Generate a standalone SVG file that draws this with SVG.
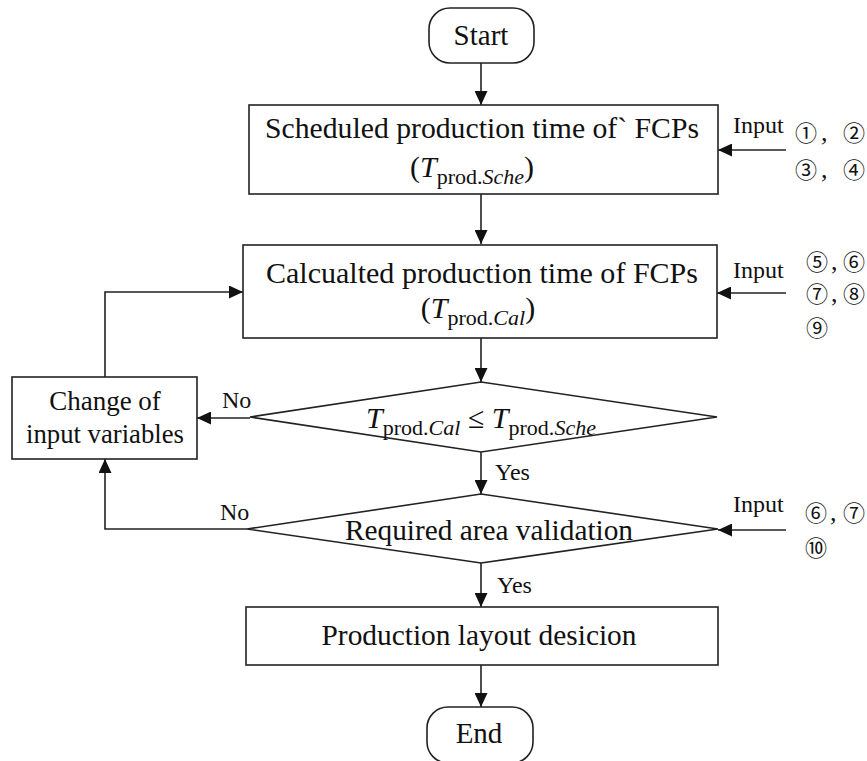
<svg xmlns="http://www.w3.org/2000/svg" width="867" height="761" viewBox="0 0 867 761">
<style>
.shape{fill:#fff;stroke:#222;stroke-width:1.6}
.line{fill:none;stroke:#222;stroke-width:1.6}
.t{font-family:"Liberation Serif","Times New Roman",serif;fill:#111}
.c{text-anchor:middle}
.big{font-size:30px}
.lab{font-size:24px}
.num{font-family:"Noto Sans CJK JP","Noto Sans CJK SC",sans-serif;font-size:22px;fill:#111}
.cm{font-family:"Liberation Serif",serif;font-size:26px;fill:#111}
.it{font-style:italic}
</style>
<defs>
<marker id="ah" markerUnits="userSpaceOnUse" markerWidth="14" markerHeight="13" refX="14" refY="6.5" orient="auto">
<path d="M0,0 L14,6.5 L0,13 Z" fill="#111"/>
</marker>
</defs>
<rect width="867" height="761" fill="#fff"/>

<g id="connectors">
<line class="line" x1="481" y1="63" x2="481" y2="105" marker-end="url(#ah)"/>
<line class="line" x1="481" y1="194" x2="481" y2="244" marker-end="url(#ah)"/>
<line class="line" x1="481" y1="338" x2="481" y2="382" marker-end="url(#ah)"/>
<line class="line" x1="481" y1="452" x2="481" y2="494" marker-end="url(#ah)"/>
<line class="line" x1="481" y1="563" x2="481" y2="607" marker-end="url(#ah)"/>
<line class="line" x1="481" y1="665" x2="481" y2="707" marker-end="url(#ah)"/>
<line class="line" x1="786" y1="150" x2="718" y2="150" marker-end="url(#ah)"/>
<line class="line" x1="786" y1="293" x2="717" y2="293" marker-end="url(#ah)"/>
<line class="line" x1="786" y1="530" x2="718" y2="530" marker-end="url(#ah)"/>
<line class="line" x1="250" y1="418" x2="197" y2="418" marker-end="url(#ah)"/>
<polyline class="line" points="105,377 105,292 243,292" marker-end="url(#ah)"/>
<polyline class="line" points="247,529 105,529 105,459" marker-end="url(#ah)"/>
<text class="t lab" x="222" y="408">No</text>
<text class="t lab" x="220" y="520">No</text>
<text class="t lab" x="495" y="480">Yes</text>
<text class="t lab" x="497" y="593">Yes</text>
<text class="t lab" x="733" y="133">Input</text>
<text class="t lab" x="733" y="278">Input</text>
<text class="t lab" x="733" y="512">Input</text>
<text class="num" x="795" y="141">①</text><text class="cm" x="821" y="141">,</text><text class="num" x="843" y="141">②</text>
<text class="num" x="795" y="178">③</text><text class="cm" x="821" y="178">,</text><text class="num" x="843" y="178">④</text>
<text class="num" x="806" y="270">⑤</text><text class="cm" x="831" y="270">,</text><text class="num" x="843" y="270">⑥</text>
<text class="num" x="806" y="302">⑦</text><text class="cm" x="831" y="302">,</text><text class="num" x="843" y="302">⑧</text>
<text class="num" x="806" y="336">⑨</text>
<text class="num" x="805" y="521">⑥</text><text class="cm" x="830" y="521">,</text><text class="num" x="843" y="521">⑦</text>
<text class="num" x="805" y="556">⑩</text>
</g>

<g id="start">
<rect class="shape" x="429" y="8" width="105" height="55" rx="21"/>
<text class="t c" x="481" y="45" font-size="29">Start</text>
</g>

<g id="scheduled">
<rect class="shape" x="249" y="105" width="469" height="89"/>
<text class="t c big" x="482" y="138" textLength="434" lengthAdjust="spacingAndGlyphs">Scheduled production time of` FCPs</text>
<text class="t c big" x="472" y="177">(<tspan class="it">T</tspan><tspan font-size="22" dy="7">prod.</tspan><tspan class="it" font-size="22">Sche</tspan><tspan dy="-7">)</tspan></text>
</g>

<g id="calculated">
<rect class="shape" x="243" y="245" width="474" height="93"/>
<text class="t c big" x="482" y="283" textLength="432" lengthAdjust="spacingAndGlyphs">Calcualted production time of FCPs</text>
<text class="t c big" x="478" y="318">(<tspan class="it">T</tspan><tspan font-size="22" dy="7">prod.</tspan><tspan class="it" font-size="22">Cal</tspan><tspan dy="-7">)</tspan></text>
</g>

<g id="decision1">
<polygon class="shape" points="481,382 717,417 481,452 250,417"/>
<text class="t c big" x="481" y="428"><tspan class="it">T</tspan><tspan font-size="22" dy="7">prod.</tspan><tspan class="it" font-size="22">Cal</tspan><tspan dy="-7"> ≤ </tspan><tspan class="it">T</tspan><tspan font-size="22" dy="7">prod.</tspan><tspan class="it" font-size="22">Sche</tspan></text>
</g>

<g id="change">
<rect class="shape" x="12" y="377" width="185" height="82"/>
<text class="t c" x="105" y="410" font-size="27">Change of</text>
<text class="t c" x="105" y="443" font-size="27" textLength="158" lengthAdjust="spacingAndGlyphs">input variables</text>
</g>

<g id="decision2">
<polygon class="shape" points="481,494 718,529 481,563 247,529"/>
<text class="t c" x="489" y="540" font-size="29" textLength="288" lengthAdjust="spacingAndGlyphs">Required area validation</text>
</g>

<g id="layout">
<rect class="shape" x="246" y="607" width="472" height="58"/>
<text class="t c big" x="479" y="645" textLength="315" lengthAdjust="spacingAndGlyphs">Production layout desicion</text>
</g>

<g id="end">
<rect class="shape" x="427" y="707" width="106" height="56" rx="21"/>
<text class="t c" x="479" y="743" font-size="29">End</text>
</g>
</svg>
